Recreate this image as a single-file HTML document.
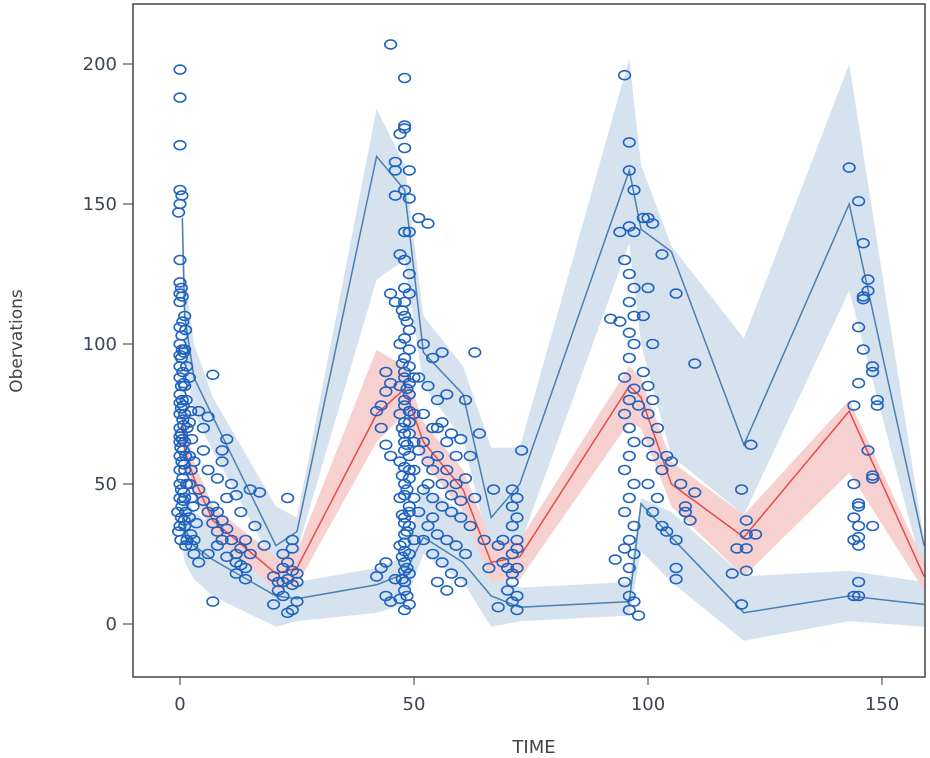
<!DOCTYPE html>
<html><head><meta charset="utf-8"><style>
html,body{margin:0;padding:0;background:#fff;}
svg{display:block;font-family:"DejaVu Sans","Liberation Sans",sans-serif;}
</style></head><body>
<svg id="chart" width="930" height="758" viewBox="0 0 930 758">
<rect x="0" y="0" width="930" height="758" fill="#fff"/>
<g id="bands"></g>
<g id="lines"></g>
<g id="points"></g>
<g id="axes"></g>
<text x="534" y="753" text-anchor="middle" font-size="18" fill="#444">TIME</text>
<text transform="translate(22,341) rotate(-90)" text-anchor="middle" font-size="17" fill="#444">Obervations</text>
</svg>
<script>
const xTicks = [0, 50, 100, 150];
const yTicks = [0, 50, 100, 150, 200];
const binTimes = [0.5, 1, 3, 7, 20.5, 25, 42, 48, 52, 60.5, 66.5, 72.6, 96, 98.5, 105, 120.5, 143, 159];
const upperLine = [145, 110, 88, 74, 28, 33, 167, 155, 97, 82, 38, 50, 162, 141, 133, 64, 150, 28];
const upperHi = [160, 125, 100, 81, 42, 38, 184, 164, 110, 92, 63, 63, 202, 164, 135, 102, 200, 30];
const upperLo = [130, 95, 75, 62, 20, 26, 123, 130, 85, 66, 24, 28, 136, 100, 60, 39, 119, 17];
const medianLine = [74, 62, 52, 37, 18, 20, 75, 84, 65, 48, 22, 24, 85, 81, 50, 31, 76, 17];
const medianHi = [80, 70, 58, 42, 24, 26, 98, 92, 72, 55, 30, 30, 92, 88, 58, 39, 80, 22];
const medianLo = [66, 56, 46, 32, 12, 14, 65, 75, 58, 40, 15, 16, 72, 70, 42, 17, 54, 12];
const lowerLine = [38, 34, 28, 23, 10, 9, 14, 18, 31, 22, 10, 6, 8, 43, 31, 4, 10, 7];
const lowerHi = [50, 46, 40, 35, 18, 15, 20, 24, 49, 40, 17, 13, 15, 45, 40, 17, 19, 15];
const lowerLo = [28, 22, 16, 10, -1, 1, 4, 7, 25, 15, -1, 1, 3, 26, 15, -6, 1, -1];
const observations = [
[0,198],[0,188],[0,171],[0,155],[0.4,153],[0,150],[-0.3,147],[0,130],[0,122],[0.3,120],[0,118],[0.5,117],[0,115],[0.6,108],[0,106],[0.4,103],[0,100],[0.5,98],[0,96],[0.3,95],[0,92],[0.6,90],[0,88],[0.3,85],[0,82],[0.5,80],[0,79],[0.3,77],[0,75],[0.6,73],[0,70],[0.3,68],[0,67],[0.5,66],[0,65],[0.2,63],[0,60],[0.4,58],[0,55],[0.6,52],[0,50],[0.3,48],[0,45],[0.4,42],[-0.5,40],[0.3,38],[0,35],[-0.3,33],
[0.8,97],[0.8,86],[0.7,78],[0.8,71],[0.7,62],[0.9,57],[0.8,47],[0.7,44],[0.9,37],[0.2,30],
[1,110],[1.2,105],[1,98],[1.4,92],[1,85],[1.3,80],[1,75],[1.5,70],[1,65],[1.2,60],[1,55],[1.4,50],[1,45],[1.2,40],[1,35],[1.5,30],[1.2,28],
[2,88],[2.3,76],[2,72],[2.5,66],[2,60],[2.4,55],[2,50],[2.5,45],[2,38],[2.3,32],[2.5,28],[3,25],[3,30],[2.8,42],[3,58],
[4,76],[5,70],[6,74],[7,89],[5,62],[6,55],[4,48],[5,44],[6,40],[7,36],[8,33],[9,30],[8,52],[9,58],[10,66],[11,50],[12,46],[13,40],[8,28],[10,24],[12,22],[14,20],[7,8],[15,48],[17,47],[16,35],[18,28],[14,30],[13,27],[12,18],[14,16],[15,25],[9,62],[10,45],[6,25],[4,22],[3.5,36],[11,30],[12,25],[13,21],[7,42],[8,40],[9,37],[10,34],
[20,17],[21,12],[22,10],[23,4],[24,5],[22,20],[23,22],[24,27],[25,18],[24,30],[23,45],[21,15],[24,14],[25,8],[22,25],[20,7],[24,19],[23,16],[25,15],[22,15],
[42,17],[43,20],[44,22],[42,76],[43,78],[44,83],[45,60],[44,64],[45,118],[46,115],[45,207],[46,165],[46,153],[44,10],[45,8],[46,16],[43,70],[46,162],[44,90],[45,86],
[48,195],[48,177],[47,175],[48,170],[49,162],[48,155],[49,152],[48,140],[47,132],[48,120],[49,118],[48,110],[49,105],[47,100],[48,95],[49,92],[48,88],[47,85],[49,82],[48,78],[47,75],[49,72],[48,68],[50,65],[48,62],[47,58],[49,55],[48,50],[47,45],[49,42],[48,38],[49,35],[48,32],[47,28],[49,25],[48,22],[49,18],[48,15],[48,12],[47,9],[49,7],[48,5],[48,178],[49,140],[48,130],[49,125],[48,115],[48,102],[49,98],[48,90],[49,86],[48,80],[49,76],[48,72],[49,68],[48,65],[49,60],[48,56],[49,52],[48,46],[49,40],[48,36],[48,29],[48,26],[48,19],[50,88],[50,75],[50,55],[50,45],[50,30],
[47.5,112],[48.5,108],[47.5,93],[48.5,84],[47.5,70],[48.5,64],[47.5,53],[48.5,48],[47.5,39],[48.5,33],[47.5,24],[48.5,20],[47.5,16],[48.5,10],
[51,145],[53,143],[52,100],[54,95],[56,97],[51,88],[53,85],[55,80],[57,82],[52,75],[54,70],[56,72],[58,68],[60,66],[51,62],[53,58],[55,60],[57,55],[59,50],[61,52],[52,48],[54,45],[56,42],[58,40],[60,38],[53,35],[55,32],[57,30],[59,28],[61,25],[54,25],[56,22],[58,18],[60,15],[55,15],[57,12],[62,60],[63,45],[64,68],[65,30],[66,20],[63,97],[61,80],[62,35],[52,65],[54,55],[56,50],[58,46],[59,60],[60,44],[51,40],[53,50],[55,70],[57,65],[52,30],[54,38],
[67,48],[68,28],[69,22],[70,20],[71,48],[72,45],[71,35],[72,30],[71,25],[72,20],[71,15],[72,10],[71,8],[72,5],[73,62],[70,12],[68,6],[69,30],[72,38],[71,42],[72,27],[71,18],
[95,196],[96,172],[96,162],[97,155],[96,142],[97,140],[95,130],[96,125],[97,120],[96,115],[97,110],[94,108],[96,104],[97,100],[96,95],[95,88],[97,84],[96,80],[98,78],[95,75],[96,70],[97,65],[96,60],[95,55],[97,50],[96,45],[95,40],[97,35],[96,30],[95,27],[97,25],[96,20],[95,15],[96,10],[97,8],[96,5],[98,3],[93,23],[92,109],[94,140],
[99,145],[100,145],[101,143],[100,120],[99,110],[101,100],[99,90],[100,85],[101,80],[100,75],[102,70],[100,65],[101,60],[103,55],[100,50],[102,45],[101,40],[103,35],[104,60],[105,58],[107,50],[108,42],[106,30],[106,20],[104,33],[103,132],[106,118],[110,93],[108,40],[110,47],[109,37],[106,16],[118,18],[120,7],[120,48],[121,37],[121,32],[121,27],[121,19],[122,64],[123,32],[119,27],
[143,163],[145,151],[146,136],[147,123],[147,119],[146,117],[146,116],[145,106],[146,98],[145,86],[144,78],[148,92],[148,90],[149,80],[149,78],[147,62],[148,53],[148,52],[144,50],[145,43],[145,42],[144,38],[145,35],[144,30],[145,28],[145,31],[148,35],[145,15],[145,10],[144,10]
];

const PL = 133, PR = 925, PT = 4, PB = 677;
const X0 = 180, XS = 4.68;
const Y0 = 624, YS = 2.8;
function xs(t){ return X0 + XS * t; }
function ys(v){ return Y0 - YS * v; }
const NS = 'http://www.w3.org/2000/svg';
function mk(tag, attrs, parent){
  const el = document.createElementNS(NS, tag);
  for (const k in attrs) el.setAttribute(k, attrs[k]);
  parent.appendChild(el);
  return el;
}
function clipT(t){ return Math.min(t, (PR - X0) / XS); }
function bandPath(hi, lo){
  let d = '';
  binTimes.forEach((t,i)=>{ d += (i?'L':'M') + xs(clipT(t)).toFixed(1) + ',' + ys(hi[i]).toFixed(1); });
  for (let i = binTimes.length-1; i >= 0; i--) d += 'L' + xs(clipT(binTimes[i])).toFixed(1) + ',' + ys(lo[i]).toFixed(1);
  return d + 'Z';
}
function linePath(vals){
  return binTimes.map((t,i)=>(i?'L':'M') + xs(clipT(t)).toFixed(1) + ',' + ys(vals[i]).toFixed(1)).join('');
}
const bands = document.getElementById('bands');
const b1 = mk('path', {d: bandPath(upperHi, upperLo), fill: '#d6e3ef'}, bands);


const b2 = mk('path', {d: bandPath(lowerHi, lowerLo), fill: '#d6e3ef'}, bands);


const b3 = mk('path', {d: bandPath(medianHi, medianLo), fill: '#f7d0d0'}, bands);



const lines = document.getElementById('lines');
const l1 = mk('path', {d: linePath(upperLine), fill: 'none', stroke: '#4a7fb0', 'stroke-width': 1.5}, lines);


const l2 = mk('path', {d: linePath(lowerLine), fill: 'none', stroke: '#4a7fb0', 'stroke-width': 1.5}, lines);


const l3 = mk('path', {d: linePath(medianLine), fill: 'none', stroke: '#e84a4a', 'stroke-width': 1.5}, lines);



const pts = document.getElementById('points');
observations.forEach(o=>{
  const c = mk('ellipse', {cx: xs(o[0]).toFixed(1), cy: ys(o[1]).toFixed(1), rx: 5.8, ry: 4.5, fill: 'none', stroke: '#1f63c0', 'stroke-width': 1.6}, pts);
  
  
});

const axes = document.getElementById('axes');
const frame = mk('rect', {x: PL, y: PT, width: PR-PL, height: PB-PT, fill: 'none', stroke: '#444', 'stroke-width': 1.5}, axes);


xTicks.forEach(t=>{
  const tk = mk('line', {x1: xs(t), x2: xs(t), y1: PB, y2: PB+8, stroke: '#555', 'stroke-width': 1.2}, axes);
  
  
  const tx = mk('text', {x: xs(t), y: 710, 'text-anchor': 'middle', 'font-size': 18, fill: '#3a4655'}, axes);
  tx.textContent = t;
  
  
});
yTicks.forEach(v=>{
  const tk = mk('line', {x1: PL-10, x2: PL, y1: ys(v), y2: ys(v), stroke: '#555', 'stroke-width': 1.2}, axes);
  
  
  const tx = mk('text', {x: 117, y: ys(v)+6, 'text-anchor': 'end', 'font-size': 18, fill: '#3a4655'}, axes);
  tx.textContent = v;
  
  
});
</script>
</body></html>
